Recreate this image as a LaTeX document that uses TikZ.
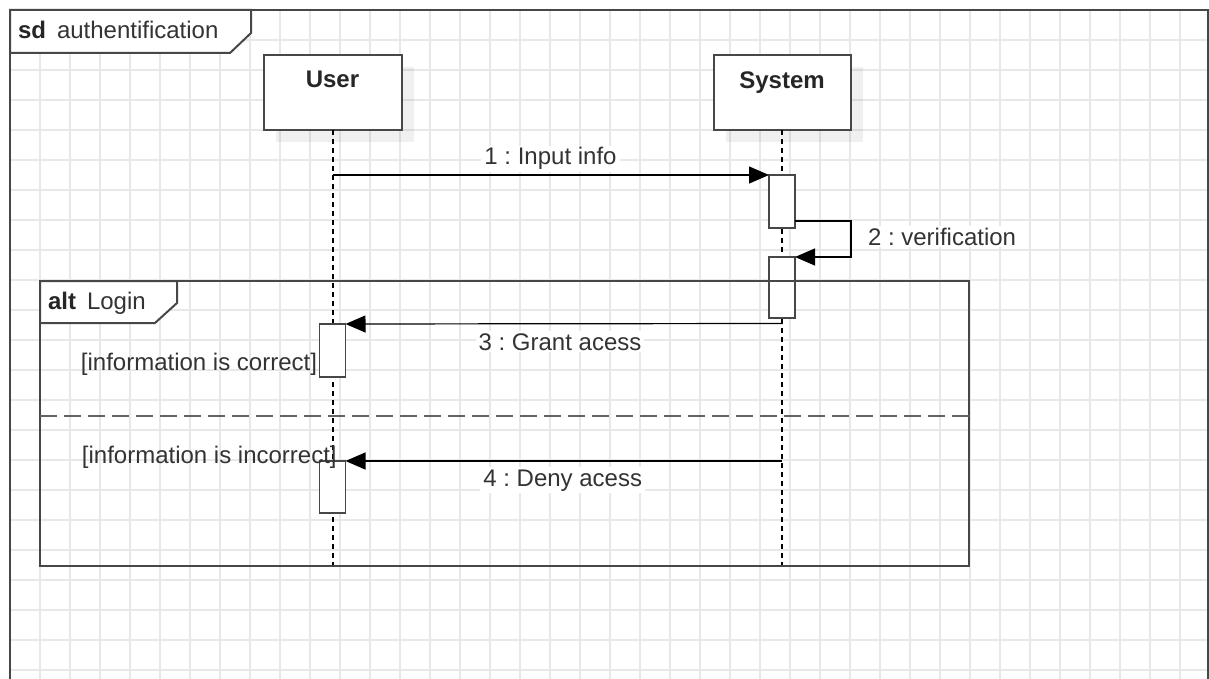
\documentclass[tikz,border=0pt]{standalone}
\usepackage{fontspec}
\setmainfont{Liberation Sans}
\usetikzlibrary{arrows.meta,shadows,calc}
\definecolor{ink}{HTML}{333333}
\definecolor{edge}{HTML}{474747}
\definecolor{gridc}{HTML}{E8E8E8}
\frenchspacing

\begin{document}
\begin{tikzpicture}[x=1pt,y=-1pt,
  every node/.style={font=\fontsize{24}{28}\selectfont, text=ink, inner sep=0pt, outer sep=0pt},
  boldtext/.style={font=\fontsize{24}{28}\selectfont\bfseries, text=black!85},
  gridline/.style={draw=gridc, line width=2pt},
  frameline/.style={draw=edge, line width=2pt},
  headbox/.style={draw=edge, line width=2pt, fill=white, minimum width=138pt, minimum height=75pt,
    drop shadow={shadow xshift=12pt, shadow yshift=-12pt, opacity=0.06, fill=black}},
  actbox/.style={draw=edge, line width=1.6pt, fill=white, minimum width=26pt},
  lifeline/.style={draw=black, line width=2pt, dash pattern=on 5pt off 4pt},
  msg/.style={draw=black, line width=1.2pt, -{Triangle[length=20pt,width=17pt]}},
  msglabel/.style={fill=white, inner xsep=3pt, inner ysep=2pt, anchor=base},
  guard/.style={anchor=base east},
  altsep/.style={draw=edge!85, line width=2pt, dash pattern=on 17pt off 7pt},
]
\useasboundingbox (0,0) rectangle (1209,679);

% background grid
\foreach \gx in {40,70,...,1180} \draw[gridline] (\gx,10) -- (\gx,679);
\foreach \gy in {40,70,...,670} \draw[gridline] (10,\gy) -- (1208,\gy);

% outer sequence-diagram frame and its title tab
\draw[frameline] (10,679) -- (10,10) -- (1208,10) -- (1208,679);
\filldraw[frameline, fill=white] (10,10) -- (251,10) -- (251,33) -- (230,53) -- (10,53) -- cycle;
\node[boldtext, anchor=base west] (sdkw) at (18,38.3) {sd};
\node[anchor=base west] (sdname) at (57,38.3) {authentification};

% participants
\node[headbox] (u) at (332.5,92.5) {};
\node[boldtext, anchor=base] (utext) at (332.5,87.3) {User};
\node[headbox, minimum width=137pt] (s) at (782,92.5) {};
\node[boldtext, anchor=base] (stext) at (782,88.3) {System};

% lifeline ends
\coordinate (uend) at (332.5,566);
\coordinate (send) at (782,566);
\draw[lifeline] (u.south) -- (uend);
\draw[lifeline] (s.south) -- (send);

% activation bars
\node[actbox, minimum height=53pt, anchor=north] (a1) at (782,175) {};
\node[actbox, minimum height=61pt, anchor=north] (a2) at (782,257) {};
\node[actbox, minimum height=53pt, anchor=north] (b1) at (332.5,324) {};
\node[actbox, minimum height=52pt, anchor=north] (b2) at (332.5,461) {};

% alt combined fragment
\draw[frameline] (40,281) rectangle (969,566);
\filldraw[frameline, fill=white] (40,281) -- (177,281) -- (177,303) -- (155,323) -- (40,323) -- cycle;
\node[boldtext, anchor=base west] (altkw) at (48,309.3) {alt};
\node[anchor=base west] (altname) at (87,309.3) {Login};
\coordinate (sepl) at (40,416);
\coordinate (sepr) at (969,416);
\draw[altsep] (sepl) -- (sepr);

% messages
\coordinate (m1from) at (332.5,175);
\draw[msg] (m1from) -- (a1.north west);
\node[msglabel] (m1label) at (550.5,165) {1 : Input info};

\draw[msg] ($(a1.south east)+(0,-7)$) -- ++(56,0) |- (a2.north east);
\node[msglabel, anchor=base west] (m2label) at (865,245) {2 : verification};

\coordinate (m3from) at (782,323.5);
\draw[msg] (m3from) -- (b1.north east);
\node[msglabel] (m3label) at (560,350) {3 : Grant acess};

\coordinate (m4from) at (782,461);
\draw[msg] (m4from) -- (b2.north east);
\node[msglabel] (m4label) at (562.7,486) {4 : Deny acess};

% guards of the two operands
\node[guard] (g1) at (317,370.7) {[information is correct]};
\node[guard] (g2) at (336.7,463) {[information is incorrect]};
\end{tikzpicture}
\end{document}
